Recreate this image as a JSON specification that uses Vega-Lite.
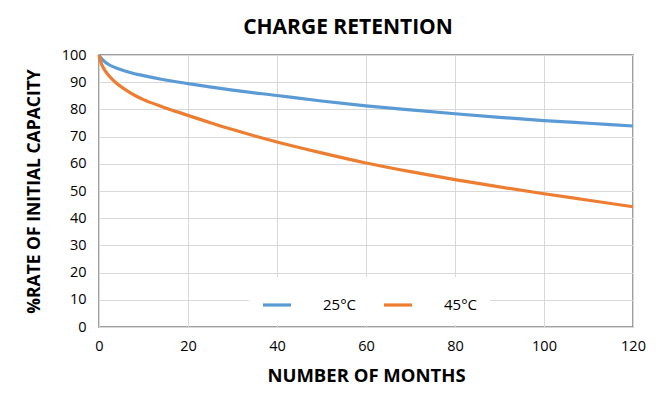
{
  "$schema": "https://vega.github.io/schema/vega-lite/v6.json",
  "width": 534,
  "height": 272,
  "autosize": "none",
  "padding": {"left": 99, "top": 55, "right": 34, "bottom": 77},
  "background": "white",
  "title": {"text": "CHARGE RETENTION", "font": "Open Sans", "fontSize": 21, "fontWeight": "bold", "color": "#000000", "anchor": "middle", "dx": -18, "offset": 9},
  "data": {"values": [
    {"m": 0, "v": 100, "t": "25°C"}, {"m": 0.5, "v": 98.8, "t": "25°C"}, {"m": 1, "v": 97.9, "t": "25°C"}, {"m": 2, "v": 96.7, "t": "25°C"}, {"m": 3, "v": 95.8, "t": "25°C"}, {"m": 4, "v": 95.1, "t": "25°C"}, {"m": 6, "v": 94.0, "t": "25°C"}, {"m": 8, "v": 93.1, "t": "25°C"}, {"m": 10, "v": 92.4, "t": "25°C"}, {"m": 14, "v": 91.1, "t": "25°C"}, {"m": 20, "v": 89.5, "t": "25°C"}, {"m": 30, "v": 87.1, "t": "25°C"}, {"m": 40, "v": 85.1, "t": "25°C"}, {"m": 50, "v": 83.1, "t": "25°C"}, {"m": 60, "v": 81.3, "t": "25°C"}, {"m": 70, "v": 79.8, "t": "25°C"}, {"m": 80, "v": 78.4, "t": "25°C"}, {"m": 90, "v": 77.1, "t": "25°C"}, {"m": 100, "v": 75.9, "t": "25°C"}, {"m": 110, "v": 74.9, "t": "25°C"}, {"m": 120, "v": 73.9, "t": "25°C"},
    {"m": 0, "v": 100, "t": "45°C"}, {"m": 0.5, "v": 97.0, "t": "45°C"}, {"m": 1, "v": 95.2, "t": "45°C"}, {"m": 2, "v": 92.8, "t": "45°C"}, {"m": 3, "v": 91.0, "t": "45°C"}, {"m": 4, "v": 89.5, "t": "45°C"}, {"m": 6, "v": 87.2, "t": "45°C"}, {"m": 8, "v": 85.2, "t": "45°C"}, {"m": 10, "v": 83.6, "t": "45°C"}, {"m": 14, "v": 81.1, "t": "45°C"}, {"m": 20, "v": 77.8, "t": "45°C"}, {"m": 25, "v": 75.1, "t": "45°C"}, {"m": 30, "v": 72.6, "t": "45°C"}, {"m": 35, "v": 70.2, "t": "45°C"}, {"m": 40, "v": 68.0, "t": "45°C"}, {"m": 50, "v": 64.0, "t": "45°C"}, {"m": 60, "v": 60.3, "t": "45°C"}, {"m": 70, "v": 57.1, "t": "45°C"}, {"m": 80, "v": 54.2, "t": "45°C"}, {"m": 90, "v": 51.5, "t": "45°C"}, {"m": 100, "v": 49.0, "t": "45°C"}, {"m": 110, "v": 46.6, "t": "45°C"}, {"m": 120, "v": 44.2, "t": "45°C"}
  ]},
  "mark": {"type": "line", "strokeWidth": 3.2, "interpolate": "monotone"},
  "encoding": {
    "x": {"field": "m", "type": "quantitative", "scale": {"domain": [0, 120], "nice": false},
      "axis": {"title": "NUMBER OF MONTHS", "values": [0, 20, 40, 60, 80, 100, 120], "labelOverlap": false, "labelFlush": false}},
    "y": {"field": "v", "type": "quantitative", "scale": {"domain": [0, 100], "nice": false},
      "axis": {"title": "%RATE OF INITIAL CAPACITY", "values": [0, 10, 20, 30, 40, 50, 60, 70, 80, 90, 100], "labelOverlap": false, "labelFlush": false}},
    "color": {"field": "t", "type": "nominal", "scale": {"domain": ["25°C", "45°C"], "range": ["#5B9BD5", "#ED7D31"]},
      "legend": {"title": null, "orient": "none", "legendX": 150, "legendY": 222, "direction": "horizontal",
        "symbolType": "M-1,0L1,0", "symbolSize": 784, "symbolStrokeWidth": 3.2, "labelOffset": 30, "columnPadding": 20,
        "labelFont": "Open Sans", "labelFontSize": 15, "labelColor": "#000000", "fillColor": "white", "padding": 12}}
  },
  "config": {
    "view": {"stroke": "#808080", "strokeWidth": 1.5},
    "axis": {"grid": true, "gridColor": "#d9d9d9", "gridWidth": 1, "domain": false, "ticks": false,
      "labelFont": "Open Sans", "labelFontSize": 14.5, "labelColor": "#000000",
      "titleFont": "Open Sans", "titleFontWeight": "bold", "titleColor": "#000000"},
    "axisX": {"labelPadding": 12, "titleFontSize": 18.5, "titlePadding": 14},
    "axisY": {"labelPadding": 13, "titleFontSize": 17.5, "titlePadding": 18}
  }
}
